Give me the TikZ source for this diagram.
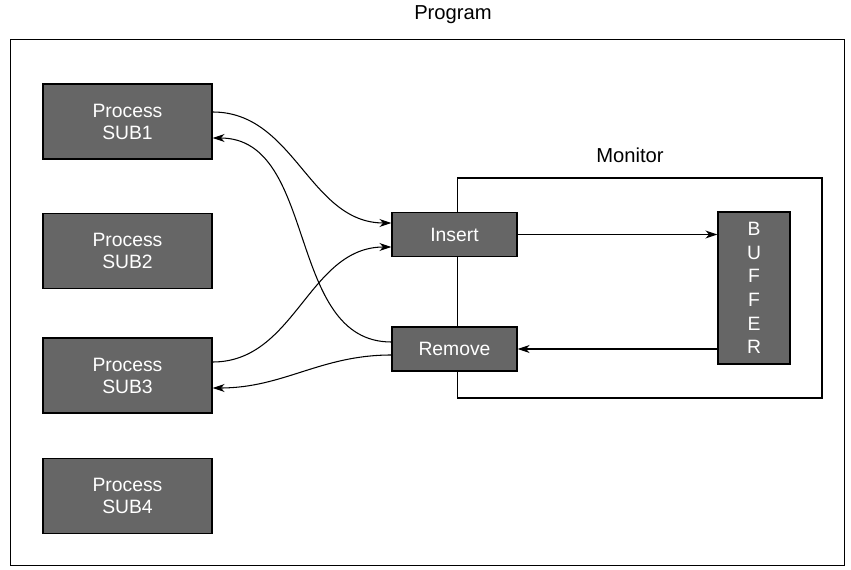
\documentclass[tikz,border=0pt]{standalone}
\usepackage{fontspec}
\setmainfont{Liberation Sans}
\usetikzlibrary{arrows.meta, positioning, calc}

\begin{document}
\begin{tikzpicture}[x=0.02cm, y=-0.02cm,
    every node/.style={font=\fontsize{11}{12.5}\selectfont},
    procbox/.style={draw, thick, fill=black!60, text=white, align=center, minimum width=3.38cm, minimum height=1.5cm},
    opbox/.style={draw, thick, fill=black!60, text=white, minimum width=2.5cm, minimum height=0.88cm},
    bufbox/.style={draw, thick, fill=black!60, text=white, align=center, minimum width=1.44cm, minimum height=3.04cm, font=\fontsize{11}{13.5}\selectfont},
    frame/.style={draw, semithick, inner sep=0pt},
    title/.style={font=\fontsize{11.5}{13}\selectfont},
    arrow/.style={-{Stealth[length=2.4mm, width=1.6mm]}, semithick}
]
    \useasboundingbox (0,0) rectangle (851,570);

    % outer frames
    \node[frame, minimum width=16.7cm, minimum height=10.54cm,
          label={[title, label distance=0.18cm, xshift=0.51cm]above:Program}] (program) at (427.5,302.5) {};
    \node[frame, minimum width=7.3cm, minimum height=4.4cm,
          label={[title, label distance=0.18cm, xshift=-0.19cm]above:Monitor}] (monitor) at (639.5,288) {};

    % processes
    \node[procbox] (sub1) at (127.5,121.5) {Process\\SUB1};
    \node[procbox] (sub2) at (127.5,251)   {Process\\SUB2};
    \node[procbox] (sub3) at (127.5,375.5) {Process\\SUB3};
    \node[procbox] (sub4) at (127.5,496)   {Process\\SUB4};

    % monitor operations and buffer
    \node[opbox] (insert) at (454.5,234.5) {Insert};
    \node[opbox] (remove) at (454.5,349)   {Remove};
    \node[bufbox] (buffer) at (754,288) {B\\U\\F\\F\\E\\R};

    \draw[arrow] ([yshift=0.19cm]sub1.east) to[out=0, in=180] ([yshift=0.23cm]insert.west);
    \draw[arrow] ([yshift=0.14cm]remove.west) to[out=180, in=0] ([yshift=-0.33cm]sub1.east);
    \draw[arrow] ([yshift=0.27cm]sub3.east) to[out=0, in=180] ([yshift=-0.25cm]insert.west);
    \draw[arrow] ([yshift=-0.12cm]remove.west) to[out=180, in=0] ([yshift=-0.25cm]sub3.east);
    \draw[arrow] (insert.east) -- (insert.east -| buffer.west);
    \draw[arrow] (remove.east -| buffer.west) -- (remove.east);
\end{tikzpicture}
\end{document}
